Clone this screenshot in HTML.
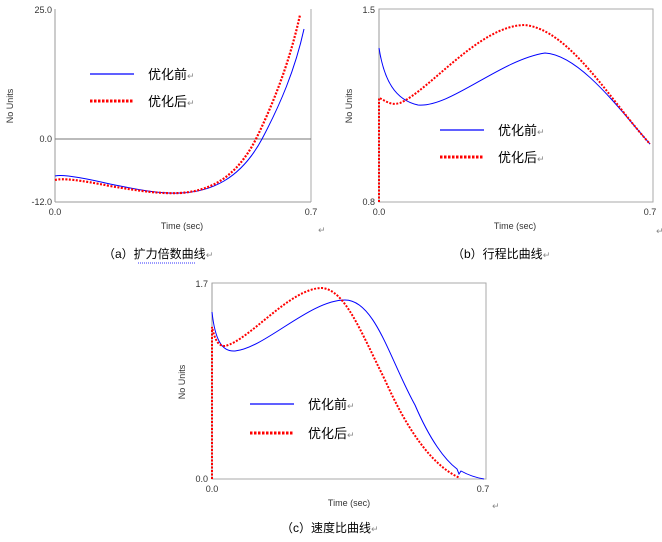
<!DOCTYPE html>
<html><head><meta charset="utf-8"><style>
body{margin:0;background:#fff;width:662px;height:542px;overflow:hidden}
svg{display:block}
.t{font-family:"Liberation Sans",Arial,sans-serif;font-size:9px;fill:#333}
.c{font-family:"Liberation Sans","Noto Sans CJK SC",sans-serif;font-size:13px;fill:#000}
.s{font-family:"Liberation Sans","Noto Sans CJK SC",sans-serif;font-size:12px;fill:#000}
.r{font-size:9px;fill:#888;font-family:"DejaVu Sans",sans-serif}
</style></head><body>
<svg width="662" height="542" viewBox="0 0 662 542">
<!-- Chart a -->
<g fill="none">
<line x1="55" y1="9" x2="55" y2="202" stroke="#999"/>
<line x1="311" y1="9" x2="311" y2="202" stroke="#aaa"/>
<line x1="55" y1="202" x2="311" y2="202" stroke="#999"/>
<line x1="55" y1="139" x2="311" y2="139" stroke="#777"/>
<path d="M55,176 C62,174 80,177 110,184 C140,190 160,194 180,193 C210,192 240,180 262,139 C280,105 295,70 304,29" stroke="#00f" stroke-width="1"/>
<path d="M55,180 C62,178 80,180 110,186 C140,191 160,194 180,193 C210,191 236,178 256,139 C275,100 290,60 300,15" stroke="#f00" stroke-width="2.2" stroke-dasharray="2,1.5"/>
<line x1="90" y1="74" x2="134" y2="74" stroke="#00f" stroke-width="1.2"/>
<line x1="90" y1="101" x2="134" y2="101" stroke="#f00" stroke-width="3" stroke-dasharray="2.5,1.5"/>
</g>
<text class="t" x="52" y="13" text-anchor="end">25.0</text>
<text class="t" x="52" y="142" text-anchor="end">0.0</text>
<text class="t" x="52" y="205" text-anchor="end">-12.0</text>
<text class="t" x="55" y="215" text-anchor="middle">0.0</text>
<text class="t" x="311" y="215" text-anchor="middle">0.7</text>
<text class="t" x="182" y="229" text-anchor="middle">Time (sec)</text>
<text class="t" transform="translate(13,106) rotate(-90)" text-anchor="middle">No Units</text>
<text class="c" x="148" y="79">优化前<tspan class="r">↵</tspan></text>
<text class="c" x="148" y="106">优化后<tspan class="r">↵</tspan></text>
<text class="r" x="318" y="233">↵</text>
<text class="s" x="103" y="258">（a）扩力倍数曲线<tspan class="r">↵</tspan></text>
<line x1="138" y1="263" x2="196" y2="263" stroke="#33f" stroke-width="1" stroke-dasharray="1,1"/>

<!-- Chart b -->
<g fill="none">
<rect x="379" y="9" width="274" height="193" stroke="#aaa"/>
<line x1="379" y1="9" x2="379" y2="202" stroke="#999"/>
<path d="M379,48 C384,80 395,100 418,105 C450,108 500,60 545,53 C580,55 620,110 650,144" stroke="#00f" stroke-width="1"/>
<path d="M379,202 L379,98 C385,100 390,106 400,103 C430,90 480,25 525,25 C570,30 610,100 650,144" stroke="#f00" stroke-width="2" stroke-dasharray="2,1.5"/>
<line x1="440" y1="130" x2="484" y2="130" stroke="#00f" stroke-width="1.2"/>
<line x1="440" y1="157" x2="484" y2="157" stroke="#f00" stroke-width="3" stroke-dasharray="2.5,1.5"/>
</g>
<text class="t" x="375" y="13" text-anchor="end">1.5</text>
<text class="t" x="375" y="205" text-anchor="end">0.8</text>
<text class="t" x="379" y="215" text-anchor="middle">0.0</text>
<text class="t" x="650" y="215" text-anchor="middle">0.7</text>
<text class="t" x="515" y="229" text-anchor="middle">Time (sec)</text>
<text class="t" transform="translate(352,106) rotate(-90)" text-anchor="middle">No Units</text>
<text class="c" x="498" y="135">优化前<tspan class="r">↵</tspan></text>
<text class="c" x="498" y="162">优化后<tspan class="r">↵</tspan></text>
<text class="r" x="656" y="234">↵</text>
<text class="s" x="452" y="258">（b）行程比曲线<tspan class="r">↵</tspan></text>

<!-- Chart c -->
<g fill="none">
<rect x="212" y="283" width="274" height="196" stroke="#aaa"/>
<line x1="212" y1="283" x2="212" y2="479" stroke="#999"/>
<path d="M212,312 C215,340 222,352 235,351 C265,348 310,300 345,300 C375,300 390,360 415,405 C430,440 445,460 457,469 L459,474 L461,471 C470,476 478,478 484,479" stroke="#00f" stroke-width="1"/>
<path d="M212,479 L212,327 C215,340 218,346 225,346 C250,340 290,288 322,288 C345,290 360,330 385,380 C405,425 430,465 460,478" stroke="#f00" stroke-width="2" stroke-dasharray="2,1.5"/>
<line x1="250" y1="404" x2="294" y2="404" stroke="#00f" stroke-width="1.2"/>
<line x1="250" y1="433" x2="294" y2="433" stroke="#f00" stroke-width="3" stroke-dasharray="2.5,1.5"/>
</g>
<text class="t" x="208" y="287" text-anchor="end">1.7</text>
<text class="t" x="208" y="482" text-anchor="end">0.0</text>
<text class="t" x="212" y="492" text-anchor="middle">0.0</text>
<text class="t" x="483" y="492" text-anchor="middle">0.7</text>
<text class="t" x="349" y="506" text-anchor="middle">Time (sec)</text>
<text class="t" transform="translate(185,382) rotate(-90)" text-anchor="middle">No Units</text>
<text class="c" x="308" y="409">优化前<tspan class="r">↵</tspan></text>
<text class="c" x="308" y="438">优化后<tspan class="r">↵</tspan></text>
<text class="r" x="492" y="509">↵</text>
<text class="s" x="281" y="532">（c）速度比曲线<tspan class="r">↵</tspan></text>
</svg>
</body></html>
